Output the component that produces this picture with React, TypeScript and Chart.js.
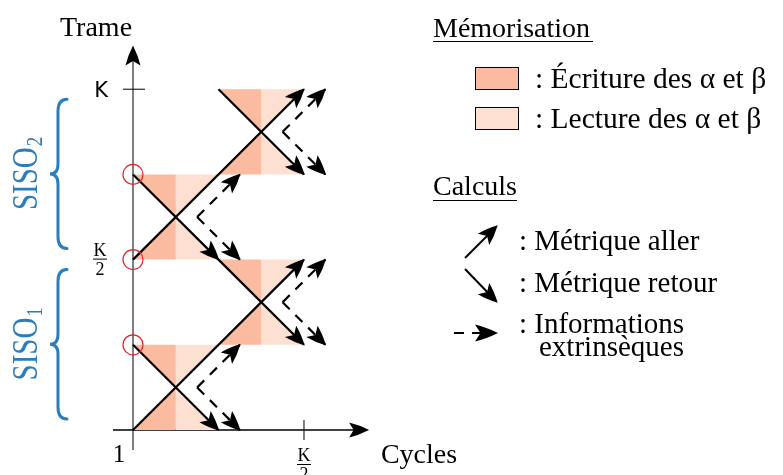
import React, { useEffect, useRef } from 'react';
import { Chart, registerables } from 'chart.js';

Chart.register(...registerables);

// ---------------- data (K expressed as 8 units; one memory window = K/4) ----------------
const K = 8;
const HALF = K / 2;
const WIN = K / 4;

// Métrique aller : [x0, y0, x1, y1] (cycles, trame)
const allerSegments: number[][] = [
  [0, 0, HALF, HALF],
  [0, HALF, HALF, K],
];
// Métrique retour : [x0, y0, x1, y1]
const retourSegments: number[][] = [
  [0, WIN, WIN, 0],
  [WIN, HALF, HALF, WIN],
  [0, HALF + WIN, WIN, HALF],
  [WIN, K, HALF, HALF + WIN],
];
// Memory windows: lower-left corner (x, y) of each WIN x WIN window
const memoryWindows: number[][] = [
  [0, 0],
  [WIN, WIN],
  [0, HALF],
  [WIN, HALF + WIN],
];
// Informations extrinsèques: [vertexX, vertexY, tipX, tipYUp, tipYDown]
const extrinsicArrows: number[][] = [
  [1.5, 1, 2.5, 2, 0],
  [3.5, 3, 4.5, 4, 2],
  [1.5, 5, 2.5, 6, 4],
  [3.5, 7, 4.5, 8, 6],
];
// Frames where a backward recursion starts (red circles)
const circleFrames: number[] = [WIN, HALF, HALF + WIN];
// SISO decoders: [frameStart, frameEnd, subscript]
const sisoRanges: [number, number, string][] = [
  [0, HALF, '1'],
  [HALF, K, '2'],
];
// Axis ticks
const xTickValues: number[] = [HALF];
const yTickValues: number[] = [K];
// Legend texts
const memoryLegend: string[] = [': Écriture des α et β', ': Lecture des α et β'];
const calcLegend: string[] = [': Métrique aller', ': Métrique retour', ': Informations', 'extrinsèques'];

// view window of the data space (full canvas)
const X_VIEW = [-3.111, 15.205];
const Y_VIEW = [-1.056, 10.094];

const DARK = '#fbbba0';
const LIGHT = '#fde0d2';
const BLUE = '#2c7dbb';
const SERIF = '"Liberation Serif", "DejaVu Serif", serif';
const SANS = '"DejaVu Sans", sans-serif';

function arrowHead(ctx: CanvasRenderingContext2D, x: number, y: number, ang: number, L = 19, W = 8, inset = 5) {
  ctx.save();
  ctx.translate(x, y);
  ctx.rotate(ang);
  ctx.beginPath();
  ctx.moveTo(1, 0);
  ctx.quadraticCurveTo(-L * 0.5, -W * 0.7, -L, -W);
  ctx.lineTo(-L + inset, 0);
  ctx.lineTo(-L, W);
  ctx.quadraticCurveTo(-L * 0.5, W * 0.7, 1, 0);
  ctx.closePath();
  ctx.fillStyle = '#000';
  ctx.fill();
  ctx.restore();
}

function seg(ctx: CanvasRenderingContext2D, x0: number, y0: number, x1: number, y1: number) {
  ctx.beginPath();
  ctx.moveTo(x0, y0);
  ctx.lineTo(x1, y1);
  ctx.stroke();
}

function text(ctx: CanvasRenderingContext2D, s: string, x: number, y: number, font: string, align: CanvasTextAlign = 'left', color = '#000') {
  ctx.font = font;
  ctx.textAlign = align;
  ctx.textBaseline = 'alphabetic';
  ctx.fillStyle = color;
  ctx.fillText(s, x, y);
}

function fraction(ctx: CanvasRenderingContext2D, cx: number, barY: number) {
  text(ctx, 'K', cx, barY - 3, `18px ${SERIF}`, 'center');
  ctx.strokeStyle = '#000';
  ctx.lineWidth = 1;
  seg(ctx, cx - 7, barY + 0.5, cx + 7, barY + 0.5);
  text(ctx, '2', cx, barY + 16, `18px ${SERIF}`, 'center');
}

const diagramPlugin = {
  id: 'diagram',
  beforeDatasetsDraw(chart: any) {
    const ctx: CanvasRenderingContext2D = chart.ctx;
    const X = (v: number) => chart.scales.x.getPixelForValue(v);
    const Y = (v: number) => chart.scales.y.getPixelForValue(v);
    ctx.save();
    // y axis (grey)
    ctx.strokeStyle = '#7f7f7f';
    ctx.lineWidth = 2;
    seg(ctx, X(0), Y(-0.47), X(0), Y(8.8));
    // x axis
    ctx.strokeStyle = '#000';
    ctx.lineWidth = 1.3;
    seg(ctx, X(-0.47), Y(0), X(5.35), Y(0));
    // ticks
    ctx.lineWidth = 1;
    xTickValues.forEach((v) => seg(ctx, X(v), Y(0) - 10, X(v), Y(0) + 10));
    yTickValues.forEach((v) => seg(ctx, X(0) - 10, Y(v), X(0) + 12, Y(v)));
    ctx.restore();
  },
  afterDatasetsDraw(chart: any) {
    const ctx: CanvasRenderingContext2D = chart.ctx;
    const X = (v: number) => chart.scales.x.getPixelForValue(v);
    const Y = (v: number) => chart.scales.y.getPixelForValue(v);
    ctx.save();

    // arrowheads of metrics
    [...allerSegments, ...retourSegments].forEach(([x0, y0, x1, y1]) => {
      const ang = Math.atan2(Y(y1) - Y(y0), X(x1) - X(x0));
      arrowHead(ctx, X(x1), Y(y1), ang);
    });
    // arrowheads of extrinsic info
    extrinsicArrows.forEach(([vx, vy, tx, tu, td]) => {
      [tu, td].forEach((ty) => {
        const ang = Math.atan2(Y(ty) - Y(vy), X(tx) - X(vx));
        arrowHead(ctx, X(tx), Y(ty), ang);
      });
    });
    // axis arrowheads
    arrowHead(ctx, X(0), Y(9.0), -Math.PI / 2, 19, 7.5, 4.5);
    arrowHead(ctx, X(5.5), Y(0), 0, 19, 7.5, 4.5);

    // red circles
    ctx.strokeStyle = '#e0262b';
    ctx.lineWidth = 1.2;
    circleFrames.forEach((f) => {
      ctx.beginPath();
      ctx.arc(X(0), Y(f), 10, 0, Math.PI * 2);
      ctx.stroke();
    });

    // axis labels
    text(ctx, 'Trame', X(0) - 73, 36, `28px ${SERIF}`);
    text(ctx, 'Cycles', X(5.8), Y(0) + 33, `28px ${SERIF}`);
    text(ctx, 'K', X(0) - 25, Y(K) + 8, `21px ${SANS}`, 'right');
    fraction(ctx, X(0) - 33, Y(HALF) - 1);
    text(ctx, '1', X(0) - 14, Y(0) + 32, `25px ${SERIF}`, 'center');
    xTickValues.forEach((v) => fraction(ctx, X(v), Y(0) + 34));

    // SISO braces and labels
    sisoRanges.forEach(([f0, f1, sub]) => {
      const top = Y(f1) + 10;
      const bot = Y(f0) - 11;
      const mid = (top + bot) / 2;
      const xl = X(0) - 75;
      const xt = X(0) - 66;
      const xc = X(0) - 83;
      ctx.strokeStyle = BLUE;
      ctx.lineWidth = 3;
      ctx.lineCap = 'round';
      ctx.beginPath();
      ctx.moveTo(xt, top);
      ctx.quadraticCurveTo(xl, top, xl, top + 12);
      ctx.lineTo(xl, mid - 10);
      ctx.quadraticCurveTo(xl, mid, xc, mid);
      ctx.quadraticCurveTo(xl, mid, xl, mid + 10);
      ctx.lineTo(xl, bot - 12);
      ctx.quadraticCurveTo(xl, bot, xt, bot);
      ctx.stroke();

      ctx.save();
      ctx.translate(X(0) - 96, mid);
      ctx.rotate(-Math.PI / 2);
      ctx.scale(1, 1.2);
      ctx.font = `29px ${SERIF}`;
      const w1 = ctx.measureText('SISO').width;
      ctx.font = `19px ${SERIF}`;
      const w2 = ctx.measureText(sub).width;
      const start = -(w1 + w2) / 2;
      text(ctx, 'SISO', start, 0, `29px ${SERIF}`, 'left', BLUE);
      text(ctx, sub, start + w1 + 1, 4, `19px ${SERIF}`, 'left', BLUE);
      ctx.restore();
    });

    // ---- legend: Mémorisation ----
    ctx.strokeStyle = '#000';
    ctx.lineWidth = 1;
    ctx.lineCap = 'butt';
    text(ctx, 'Mémorisation', 433, 37, `28px ${SERIF}`);
    seg(ctx, 433, 41.5, 593, 41.5);
    [DARK, LIGHT].forEach((c, i) => {
      const y = 67 + i * 40;
      ctx.fillStyle = c;
      ctx.fillRect(475, y, 43, 22);
      ctx.strokeRect(475.5, y + 0.5, 43, 22);
      text(ctx, memoryLegend[i], 535, y + 21, `29.5px ${SERIF}`);
    });

    // ---- legend: Calculs ----
    text(ctx, 'Calculs', 433, 195, `28px ${SERIF}`);
    seg(ctx, 433, 200.5, 517, 200.5);
    ctx.lineWidth = 2;
    seg(ctx, 465, 258, 493, 230);
    arrowHead(ctx, 497, 226, -Math.PI / 4);
    seg(ctx, 465, 269, 493, 298);
    arrowHead(ctx, 497, 302, Math.PI / 4);
    seg(ctx, 454, 333, 464, 333);
    seg(ctx, 472, 333, 485, 333);
    arrowHead(ctx, 497, 333, 0, 22, 8.5, 5.5);
    text(ctx, calcLegend[0], 519, 250, `29px ${SERIF}`);
    text(ctx, calcLegend[1], 519, 292, `29px ${SERIF}`);
    text(ctx, calcLegend[2], 519, 333, `29px ${SERIF}`);
    text(ctx, calcLegend[3], 539, 356, `29px ${SERIF}`);

    ctx.restore();
  },
};

function buildDatasets() {
  const ds: any[] = [];
  // memory fills (écriture = dark left half, lecture = light right half)
  memoryWindows.forEach(([x0, y0]) => {
    const cx = x0 + WIN / 2;
    const cy = y0 + WIN / 2;
    ds.push({
      data: [
        { x: cx, y: cy }, { x: x0, y: y0 + WIN }, { x: cx, y: y0 + WIN },
        { x: cx, y: y0 }, { x: x0, y: y0 }, { x: cx, y: cy },
      ],
      showLine: true, fill: 'shape', backgroundColor: DARK,
      borderWidth: 0, borderColor: 'rgba(0,0,0,0)', pointRadius: 0, order: 3,
    });
    ds.push({
      data: [
        { x: cx, y: cy }, { x: x0 + WIN, y: y0 + WIN }, { x: cx, y: y0 + WIN },
        { x: cx, y: y0 }, { x: x0 + WIN, y: y0 }, { x: cx, y: cy },
      ],
      showLine: true, fill: 'shape', backgroundColor: LIGHT,
      borderWidth: 0, borderColor: 'rgba(0,0,0,0)', pointRadius: 0, order: 3,
    });
  });
  // metrics
  [...allerSegments, ...retourSegments].forEach(([x0, y0, x1, y1]) => {
    ds.push({
      data: [{ x: x0, y: y0 }, { x: x1, y: y1 }],
      showLine: true, fill: false, borderColor: '#000', borderWidth: 2.2,
      pointRadius: 0, order: 1,
    });
  });
  // extrinsic information (dashed)
  extrinsicArrows.forEach(([vx, vy, tx, tu, td]) => {
    [tu, td].forEach((ty) => {
      ds.push({
        data: [{ x: vx, y: vy }, { x: tx, y: ty }],
        showLine: true, fill: false, borderColor: '#000', borderWidth: 2.2,
        borderDash: [10, 8], pointRadius: 0, order: 1,
      });
    });
  });
  return ds;
}

export default function App() {
  const ref = useRef<HTMLCanvasElement | null>(null);
  useEffect(() => {
    if (!ref.current) return;
    const chart = new Chart(ref.current, {
      type: 'scatter',
      data: { datasets: buildDatasets() },
      options: {
        animation: false,
        responsive: false,
        devicePixelRatio: 1,
        layout: { padding: 0 },
        plugins: { legend: { display: false }, tooltip: { enabled: false }, title: { display: false } },
        scales: {
          x: { type: 'linear', min: X_VIEW[0], max: X_VIEW[1], display: false },
          y: { type: 'linear', min: Y_VIEW[0], max: Y_VIEW[1], display: false },
        },
        events: [],
      },
      plugins: [diagramPlugin],
    });
    return () => chart.destroy();
  }, []);
  return (
    <div style={{ position: 'fixed', left: 0, top: 0, width: 783, height: 475, background: '#fff' }}>
      <canvas ref={ref} width={783} height={475} style={{ width: 783, height: 475, display: 'block' }} />
    </div>
  );
}
